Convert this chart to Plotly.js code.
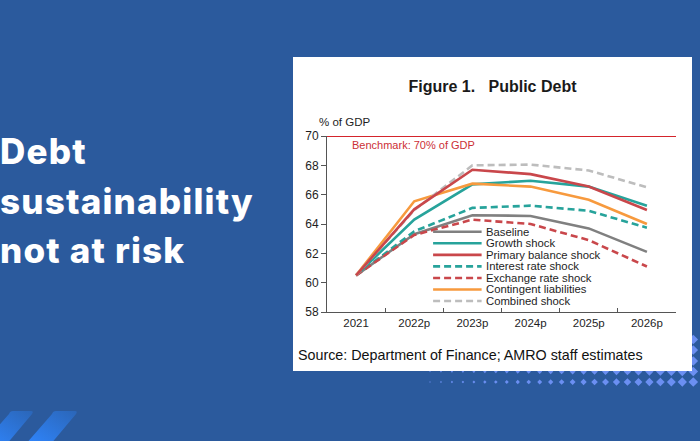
<!DOCTYPE html>
<html>
<head>
<meta charset="utf-8">
<script src="https://cdn.plot.ly/plotly-3.0.1.min.js"></script>
<style>
  html, body { margin:0; padding:0; }
  body { width:700px; height:441px; overflow:hidden; position:relative; background:#2b5a9d; }
  #headline { position:absolute; left:0px; top:127px; color:#ffffff; font-family:'Inter','Lato',sans-serif; font-weight:800; font-size:35px; letter-spacing:1.2px; line-height:49.5px; white-space:nowrap; }
  #deco { position:absolute; left:0; top:0; }
  #chart { position:absolute; left:293px; top:57px; width:399px; height:314px; }
</style>
</head>
<body>
<svg id="deco" width="700" height="441"></svg>
<div id="headline">Debt<br>sustainability<br>not at risk</div>
<div id="chart"></div>
<script>
// ---- data ----
var years = ['2021', '2022p', '2023p', '2024p', '2025p', '2026p'];
var baseline        = [60.5, 63.3, 64.6, 64.55, 63.7, 62.1];
var growthShock     = [60.5, 64.3, 66.7, 66.95, 66.55, 65.25];
var primaryShock    = [60.5, 65.0, 67.7, 67.4, 66.55, 64.95];
var interestShock   = [60.5, 63.5, 65.1, 65.25, 64.9, 63.75];
var exchangeShock   = [60.5, 63.25, 64.3, 64.0, 62.9, 61.1];
var contingent      = [60.5, 65.55, 66.75, 66.55, 65.65, 64.0];
var combinedShock   = [60.5, 64.95, 68.0, 68.05, 67.65, 66.5];
var benchmark = 70;
var seriesNames = ['Baseline', 'Growth shock', 'Primary balance shock', 'Interest rate shock',
                   'Exchange rate shock', 'Contingent liabilities', 'Combined shock'];
var yTicks = [58, 60, 62, 64, 66, 68, 70];

// ---- styles ----
var seriesData = [baseline, growthShock, primaryShock, interestShock, exchangeShock, contingent, combinedShock];
var colors = ['#808080', '#27a39b', '#c9474b', '#27a39b', '#c9474b', '#f79a3e', '#bdbdbd'];
var dashes = ['solid', 'solid', 'solid', '7px,4px', '7px,4px', 'solid', '7px,4px'];
var drawOrder = [0, 3, 4, 1, 5, 6, 2];

var traces = drawOrder.map(function (i) {
  return {
    type: 'scatter', mode: 'lines', x: years, y: seriesData[i], name: seriesNames[i],
    line: { color: colors[i], width: 2.6, dash: dashes[i] }, showlegend: false, hoverinfo: 'skip'
  };
});

var font = 'Arial, "Liberation Sans", sans-serif';
var shapes = [{
  type: 'line', xref: 'paper', x0: 0, x1: 1, yref: 'y', y0: benchmark, y1: benchmark,
  line: { color: '#d4242c', width: 2 }, layer: 'above'
}];
var annotations = [
  { text: '% of GDP', xref: 'paper', yref: 'paper', x: -0.03, y: 1.08, xanchor: 'left', yanchor: 'middle',
    showarrow: false, font: { family: font, size: 11.5, color: '#1e1e1e' } },
  { text: 'Benchmark: 70% of GDP', xref: 'paper', yref: 'paper', x: 0.066, y: 0.949, xanchor: 'left', yanchor: 'middle',
    showarrow: false, font: { family: font, size: 11, color: '#cc2f36' } },
  { text: 'Source: Department of Finance; AMRO staff estimates', xref: 'paper', yref: 'paper', x: -0.088, y: -0.244,
    xanchor: 'left', yanchor: 'middle', showarrow: false, font: { family: font, size: 14.3, color: '#111' } }
];
// manual compact legend
for (var k = 0; k < seriesNames.length; k++) {
  var ly = 0.456 - k * 0.0656;
  shapes.push({ type: 'line', xref: 'paper', yref: 'paper', x0: 0.304, x1: 0.443, y0: ly, y1: ly,
    line: { color: colors[k], width: 2.6, dash: dashes[k] } });
  annotations.push({ text: seriesNames[k], xref: 'paper', yref: 'paper', x: 0.45, y: ly, xanchor: 'left', yanchor: 'middle',
    showarrow: false, font: { family: font, size: 11.3, color: '#1e1e1e' } });
}

var layout = {
  width: 399, height: 314,
  margin: { l: 34, r: 16, t: 79, b: 59 },
  paper_bgcolor: '#ffffff', plot_bgcolor: '#ffffff',
  title: { text: '<b>Figure 1.\u00a0\u00a0 Public Debt</b>', x: 0.5, xref: 'container', xanchor: 'center',
           y: 0.905, yref: 'container', yanchor: 'middle', font: { family: font, size: 16, color: '#1a1a1a' } },
  xaxis: {
    type: 'category', range: [-0.5, 5.5], showline: true, linecolor: '#555', linewidth: 1,
    ticks: 'inside', ticklen: 4, tickcolor: '#555', tickson: 'boundaries', showgrid: false, zeroline: false,
    tickfont: { family: font, size: 11.5, color: '#1e1e1e' }, fixedrange: true
  },
  yaxis: {
    range: [58, 70], tickvals: yTicks, ticktext: yTicks.map(String), showline: true, linecolor: '#555', linewidth: 1,
    ticks: 'outside', ticklen: 5, tickcolor: '#555', showgrid: false, zeroline: false,
    tickfont: { family: font, size: 12, color: '#1e1e1e' }, fixedrange: true
  },
  shapes: shapes,
  annotations: annotations,
  showlegend: false
};

Plotly.newPlot('chart', traces, layout, { staticPlot: true, displayModeBar: false });

// ---- background decoration (diamond grid + chevrons) ----
var svgNS = 'http://www.w3.org/2000/svg';
var deco = document.getElementById('deco');
var defs = document.createElementNS(svgNS, 'defs');
defs.innerHTML = '<linearGradient id="chev" x1="0" y1="1" x2="1" y2="0">' +
  '<stop offset="0" stop-color="#2f86ff"/><stop offset="1" stop-color="#2b66b8"/></linearGradient>';
deco.appendChild(defs);
var rows = [339.5, 350, 361, 371.5, 382];
for (var r = 0; r < rows.length; r++) {
  for (var c = 0; c < 25; c++) {
    var cx = 430 + c * 10.97;
    var h = 0.8 + 4.0 * c / 24;
    var d = document.createElementNS(svgNS, 'polygon');
    d.setAttribute('points', (cx - h) + ',' + rows[r] + ' ' + cx + ',' + (rows[r] - h) + ' ' + (cx + h) + ',' + rows[r] + ' ' + cx + ',' + (rows[r] + h));
    d.setAttribute('fill', '#6b8ff2');
    deco.appendChild(d);
  }
}
[[10, 34], [53, 78]].forEach(function (p) {
  var poly = document.createElementNS(svgNS, 'path');
  var x0 = p[0], x1 = p[1], t = 411, b = 445, s = 28;
  poly.setAttribute('d', 'M' + (x0 + 3) + ',' + t + ' L' + (x1 - 3) + ',' + t + ' Q' + x1 + ',' + t + ' ' + (x1 - 2) + ',' + (t + 3) +
    ' L' + (x1 - s) + ',' + b + ' L' + (x0 - s) + ',' + b + ' L' + (x0 - 1) + ',' + (t + 3) + ' Q' + x0 + ',' + t + ' ' + (x0 + 3) + ',' + t + ' Z');
  poly.setAttribute('fill', 'url(#chev)');
  deco.appendChild(poly);
});
</script>
</body>
</html>
